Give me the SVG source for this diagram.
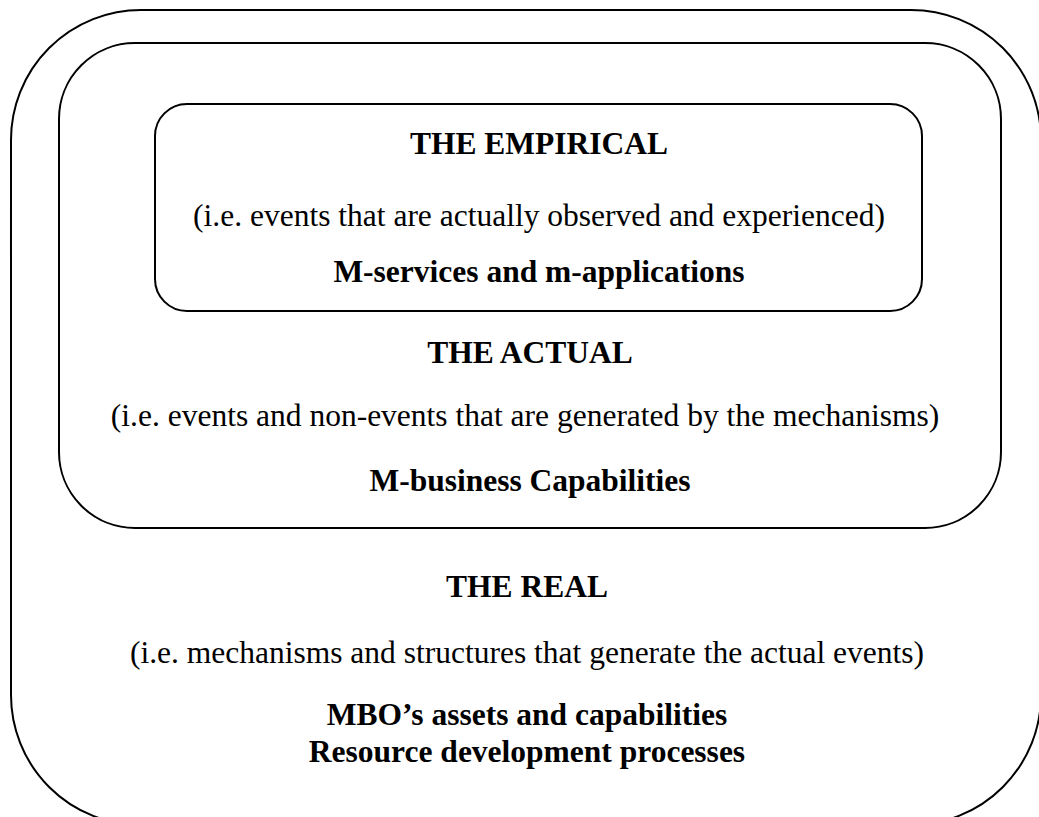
<svg xmlns="http://www.w3.org/2000/svg" width="1039" height="817" viewBox="0 0 1039 817">
  <style>
    .frame { fill: none; stroke: #000; stroke-width: 2; }
    text { font-family: "Liberation Serif", "Times New Roman", serif; font-size: 31.5px; fill: #000; text-anchor: middle; }
    .head { font-weight: bold; }
  </style>
  <rect width="1039" height="817" fill="#fff"/>

  <!-- outermost layer: the real -->
  <g id="real">
    <rect class="frame" x="11" y="10" width="1030" height="815" rx="130" ry="130"/>
    <text class="head" x="527" y="597">THE REAL</text>
    <text x="527" y="663">(i.e. mechanisms and structures that generate the actual events)</text>
    <text class="head" x="527" y="725">MBO’s assets and capabilities</text>
    <text class="head" x="527" y="762">Resource development processes</text>
  </g>

  <!-- middle layer: the actual -->
  <g id="actual">
    <rect class="frame" x="59" y="43" width="942" height="485" rx="76" ry="76"/>
    <text class="head" x="530" y="363">THE ACTUAL</text>
    <text x="525" y="426">(i.e. events and non-events that are generated by the mechanisms)</text>
    <text class="head" x="530" y="491">M-business Capabilities</text>
  </g>

  <!-- inner layer: the empirical -->
  <g id="empirical">
    <rect class="frame" x="155" y="104" width="767" height="207" rx="32" ry="32"/>
    <text class="head" x="539" y="154">THE EMPIRICAL</text>
    <text x="539" y="226">(i.e. events that are actually observed and experienced)</text>
    <text class="head" x="539" y="282">M-services and m-applications</text>
  </g>

  <g id="connectors"/>
</svg>
